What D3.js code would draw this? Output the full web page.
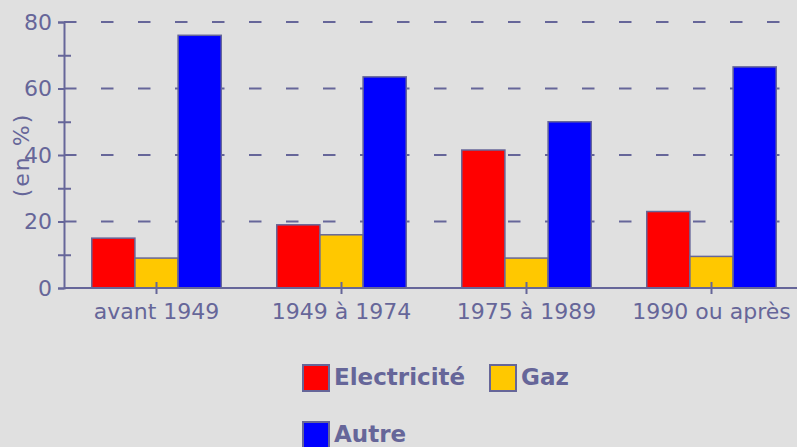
<!DOCTYPE html>
<html>
<head>
<meta charset="utf-8">
<script src="https://cdn.jsdelivr.net/npm/d3@7"></script>
<style>
  body { margin: 0; background: #e0e0e0; overflow: hidden; }
  svg { display: block; }
  .tick text { font-family: "DejaVu Sans", sans-serif; fill: #666699; }
</style>
</head>
<body>
<script>
// values (en %)
var categories = ["avant 1949", "1949 à 1974", "1975 à 1989", "1990 ou après"]
var seriesNames = ["Electricité", "Gaz", "Autre"]
var electricite = [15, 19, 41.5, 23]
var gaz = [9, 16, 9, 9.5]
var autre = [76, 63.5, 50, 66.5]
var yTicks = [0, 20, 40, 60, 80]
var yMinorTicks = [10, 30, 50, 70]
var colors = ["#ff0000", "#ffc800", "#0000ff"]

WIDTH = 797
HEIGHT = 447
LEFT = 64
INK = "#666699"

var svg = d3.select("body").append("svg")
  .attr("width", WIDTH).attr("height", HEIGHT)

var xScale = d3.scaleBand().domain(categories)
  .range([LEFT, LEFT + 4 * 185])
  .paddingInner(0.3).paddingOuter(0.15)
var sub = d3.scaleBand().domain(seriesNames).range([0, xScale.bandwidth()])
var yScale = d3.scaleLinear().domain([0, 80]).range([288, 22])

// dashed grid lines behind the bars
svg.append("g").selectAll("line").data(yTicks.slice(1)).join("line")
  .attr("x1", LEFT).attr("x2", WIDTH)
  .attr("y1", function(d) { return yScale(d) })
  .attr("y2", function(d) { return yScale(d) })
  .attr("stroke", INK).attr("stroke-width", 2)
  .attr("stroke-dasharray", "12.5,24.5")

// bars
var data = [electricite, gaz, autre]
seriesNames.forEach(function(name, s) {
  svg.append("g").selectAll("rect").data(data[s]).join("rect")
    .attr("x", function(d, i) { return xScale(categories[i]) + sub(name) })
    .attr("y", function(d) { return yScale(d) })
    .attr("width", sub.bandwidth())
    .attr("height", function(d) { return yScale(0) - yScale(d) })
    .attr("fill", colors[s])
    .attr("stroke", INK).attr("stroke-width", 1.5)
})

// y axis
var yAxis = svg.append("g").attr("transform", "translate(" + LEFT + ",0)")
  .call(d3.axisLeft(yScale).tickValues(yTicks).tickSize(6).tickPadding(6))
yAxis.selectAll("text").style("font-size", "22px")
svg.append("g").attr("transform", "translate(" + LEFT + ",0)")
  .call(d3.axisLeft(yScale).tickValues(yMinorTicks).tickSizeInner(-7).tickSizeOuter(0).tickFormat(""))
  .call(function(g) { g.select(".domain").remove() })
svg.append("g").attr("transform", "translate(" + LEFT + ",0)")
  .call(d3.axisLeft(yScale).tickValues(yMinorTicks).tickSize(6).tickFormat(""))
  .call(function(g) { g.select(".domain").remove() })

// x axis
var xAxis = svg.append("g").attr("transform", "translate(0," + yScale(0) + ")")
  .call(d3.axisBottom(xScale).tickSize(6).tickSizeOuter(0).tickPadding(9))
xAxis.select(".domain").attr("d", "M" + LEFT + ",0H" + WIDTH)
xAxis.selectAll(".tick line").attr("y1", -6)
xAxis.selectAll("text").style("font-size", "22px")

svg.selectAll(".domain, .tick line").attr("stroke", INK).attr("stroke-width", 2)

svg.append("text")
  .attr("transform", "translate(29,155)rotate(-90)")
  .attr("text-anchor", "middle")
  .style("font-family", "DejaVu Sans, sans-serif").style("font-size", "22px")
  .style("letter-spacing", "2px")
  .attr("fill", INK)
  .text("(en %)")

// legend
var legendPos = [[303, 365], [490, 365], [303, 422]]
seriesNames.forEach(function(name, s) {
  var p = legendPos[s]
  svg.append("rect").attr("x", p[0]).attr("y", p[1])
    .attr("width", 26).attr("height", 26)
    .attr("fill", colors[s]).attr("stroke", INK).attr("stroke-width", 2)
  svg.append("text").attr("x", p[0] + 31).attr("y", p[1] + 20)
    .style("font-family", "DejaVu Sans, sans-serif").style("font-size", "23px")
    .style("font-weight", "bold").attr("fill", INK)
    .text(name)
})
</script>
</body>
</html>
